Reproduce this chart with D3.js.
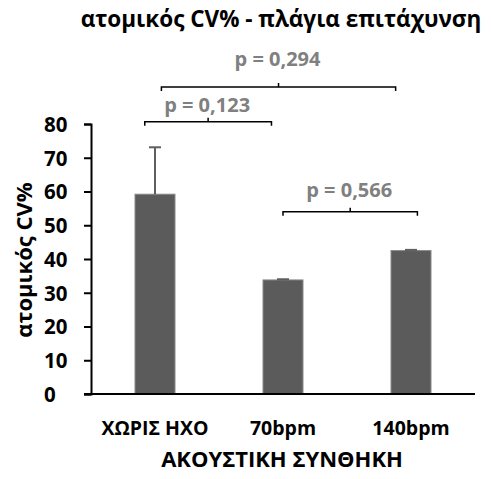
<!DOCTYPE html>
<html>
<head>
<meta charset="utf-8">
<script src="https://cdn.jsdelivr.net/npm/d3@7/dist/d3.min.js"></script>
<style>
  html, body { margin: 0; padding: 0; background: #fff; }
  svg { display: block; }
  text { font-family: "Open Sans", "Noto Sans", sans-serif; font-weight: bold; }
</style>
</head>
<body>
<svg id="chart" width="491" height="479"></svg>
<script>
// Conditions and mean CV% with standard deviation
const categories = ["ΧΩΡΙΣ ΗΧΟ", "70bpm", "140bpm"];
const means = [59.2, 33.8, 42.5];
const errors = [13.9, 0.2, 0.2];
const yTicks = [0, 10, 20, 30, 40, 50, 60, 70, 80];

// Pairwise comparisons (category indices) and their p-values
const pairsFrom = [0, 0, 1];
const pairsTo = [1, 2, 2];
const pLabels = ["p = 0,123", "p = 0,294", "p = 0,566"];

const titleText = "ατομικός CV% - πλάγια επιτάχυνση";
const yTitle = "ατομικός CV%";
const xTitle = "ΑΚΟΥΣΤΙΚΗ ΣΥΝΘΗΚΗ";

// Bracket placement: level on the value axis, small horizontal nudges
// in category-step units, and the gap from bracket to its label (px)
const bracketLevel = [80.7, 91.0, 54.0];
const bracketNudgeL = [-0.08, 0.05, 0.0];
const bracketNudgeR = [-0.09, -0.12, 0.05];
const labelGap = [10, 21, 15];

const svg = d3.select("#chart");
const plot = { left: 91, right: 475, top: 124, bottom: 394 };

const x = d3.scaleBand()
  .domain(categories)
  .range([plot.left, plot.right])
  .paddingInner(0.6875)
  .paddingOuter(0.34375);

const y = d3.scaleLinear().domain([0, 80]).range([plot.bottom, plot.top]);

const step = x.step();
const cx = i => x(categories[i]) + x.bandwidth() / 2;

// Title
svg.append("text")
  .attr("x", 281).attr("y", 27)
  .attr("text-anchor", "middle")
  .attr("font-size", 22.5)
  .attr("fill", "#000")
  .text(titleText);

// Bars
svg.append("g").selectAll("rect")
  .data(means)
  .join("rect")
  .attr("x", (d, i) => x(categories[i]))
  .attr("y", d => y(d))
  .attr("width", x.bandwidth())
  .attr("height", d => y(0) - y(d))
  .attr("fill", "#5b5b5b")
  .attr("stroke", "#8a8a8a")
  .attr("stroke-width", 1);

// Error bars (upper only)
const eg = svg.append("g").attr("stroke", "#5f5f5f").attr("stroke-width", 2);
means.forEach((m, i) => {
  const c = cx(i);
  eg.append("line").attr("x1", c).attr("x2", c).attr("y1", y(m)).attr("y2", y(m + errors[i]));
  eg.append("line").attr("x1", c - 6).attr("x2", c + 6).attr("y1", y(m + errors[i])).attr("y2", y(m + errors[i]));
});

// Y axis
const yAxis = d3.axisLeft(y).tickValues(yTicks).tickSize(7).tickFormat(d3.format("d"));
const ya = svg.append("g").attr("transform", `translate(${plot.left},0)`).call(yAxis);
ya.select(".domain").attr("stroke", "#000").attr("stroke-width", 2);
ya.selectAll(".tick line").attr("stroke", "#000").attr("stroke-width", 2);
ya.selectAll(".tick text")
  .attr("text-anchor", "start")
  .attr("x", 44 - plot.left)
  .attr("dy", "0.36em")
  .attr("font-size", 20.5)
  .attr("font-family", "'Open Sans', sans-serif")
  .attr("font-weight", "bold")
  .attr("fill", "#000");

// X axis baseline and category labels
const xAxis = d3.axisBottom(x).tickSize(0).tickPadding(0);
const xa = svg.append("g").attr("transform", `translate(0,${plot.bottom})`).call(xAxis);
xa.select(".domain").attr("stroke", "#000").attr("stroke-width", 2)
  .attr("d", `M${plot.left - 7},0H${plot.right}`);
xa.selectAll(".tick text")
  .attr("y", 41)
  .attr("dy", 0)
  .attr("font-size", 19.5)
  .attr("font-family", "'Open Sans', sans-serif")
  .attr("font-weight", "bold")
  .attr("fill", "#000");

// Axis titles
svg.append("text")
  .attr("x", 282).attr("y", 467)
  .attr("text-anchor", "middle")
  .attr("font-size", 22)
  .attr("fill", "#000")
  .text(xTitle);

svg.append("text")
  .attr("transform", "translate(32,260) rotate(-90)")
  .attr("text-anchor", "middle")
  .attr("font-size", 22)
  .attr("fill", "#000")
  .text(yTitle);

// Significance brackets
const bg = svg.append("g");
pLabels.forEach((label, k) => {
  const x1 = cx(pairsFrom[k]) + bracketNudgeL[k] * step;
  const x2 = cx(pairsTo[k]) + bracketNudgeR[k] * step;
  const yy = y(bracketLevel[k]);
  const mid = (x1 + x2) / 2;
  bg.append("path")
    .attr("d", `M${x1},${yy + 4}V${yy}H${x2}V${yy + 4}M${mid},${yy}V${yy - 4}`)
    .attr("fill", "none")
    .attr("stroke", "#000")
    .attr("stroke-width", 1.5);
  bg.append("text")
    .attr("x", mid - 1)
    .attr("y", yy - labelGap[k])
    .attr("text-anchor", "middle")
    .attr("font-size", 20)
    .attr("fill", "#808080")
    .text(label);
});
</script>
</body>
</html>
